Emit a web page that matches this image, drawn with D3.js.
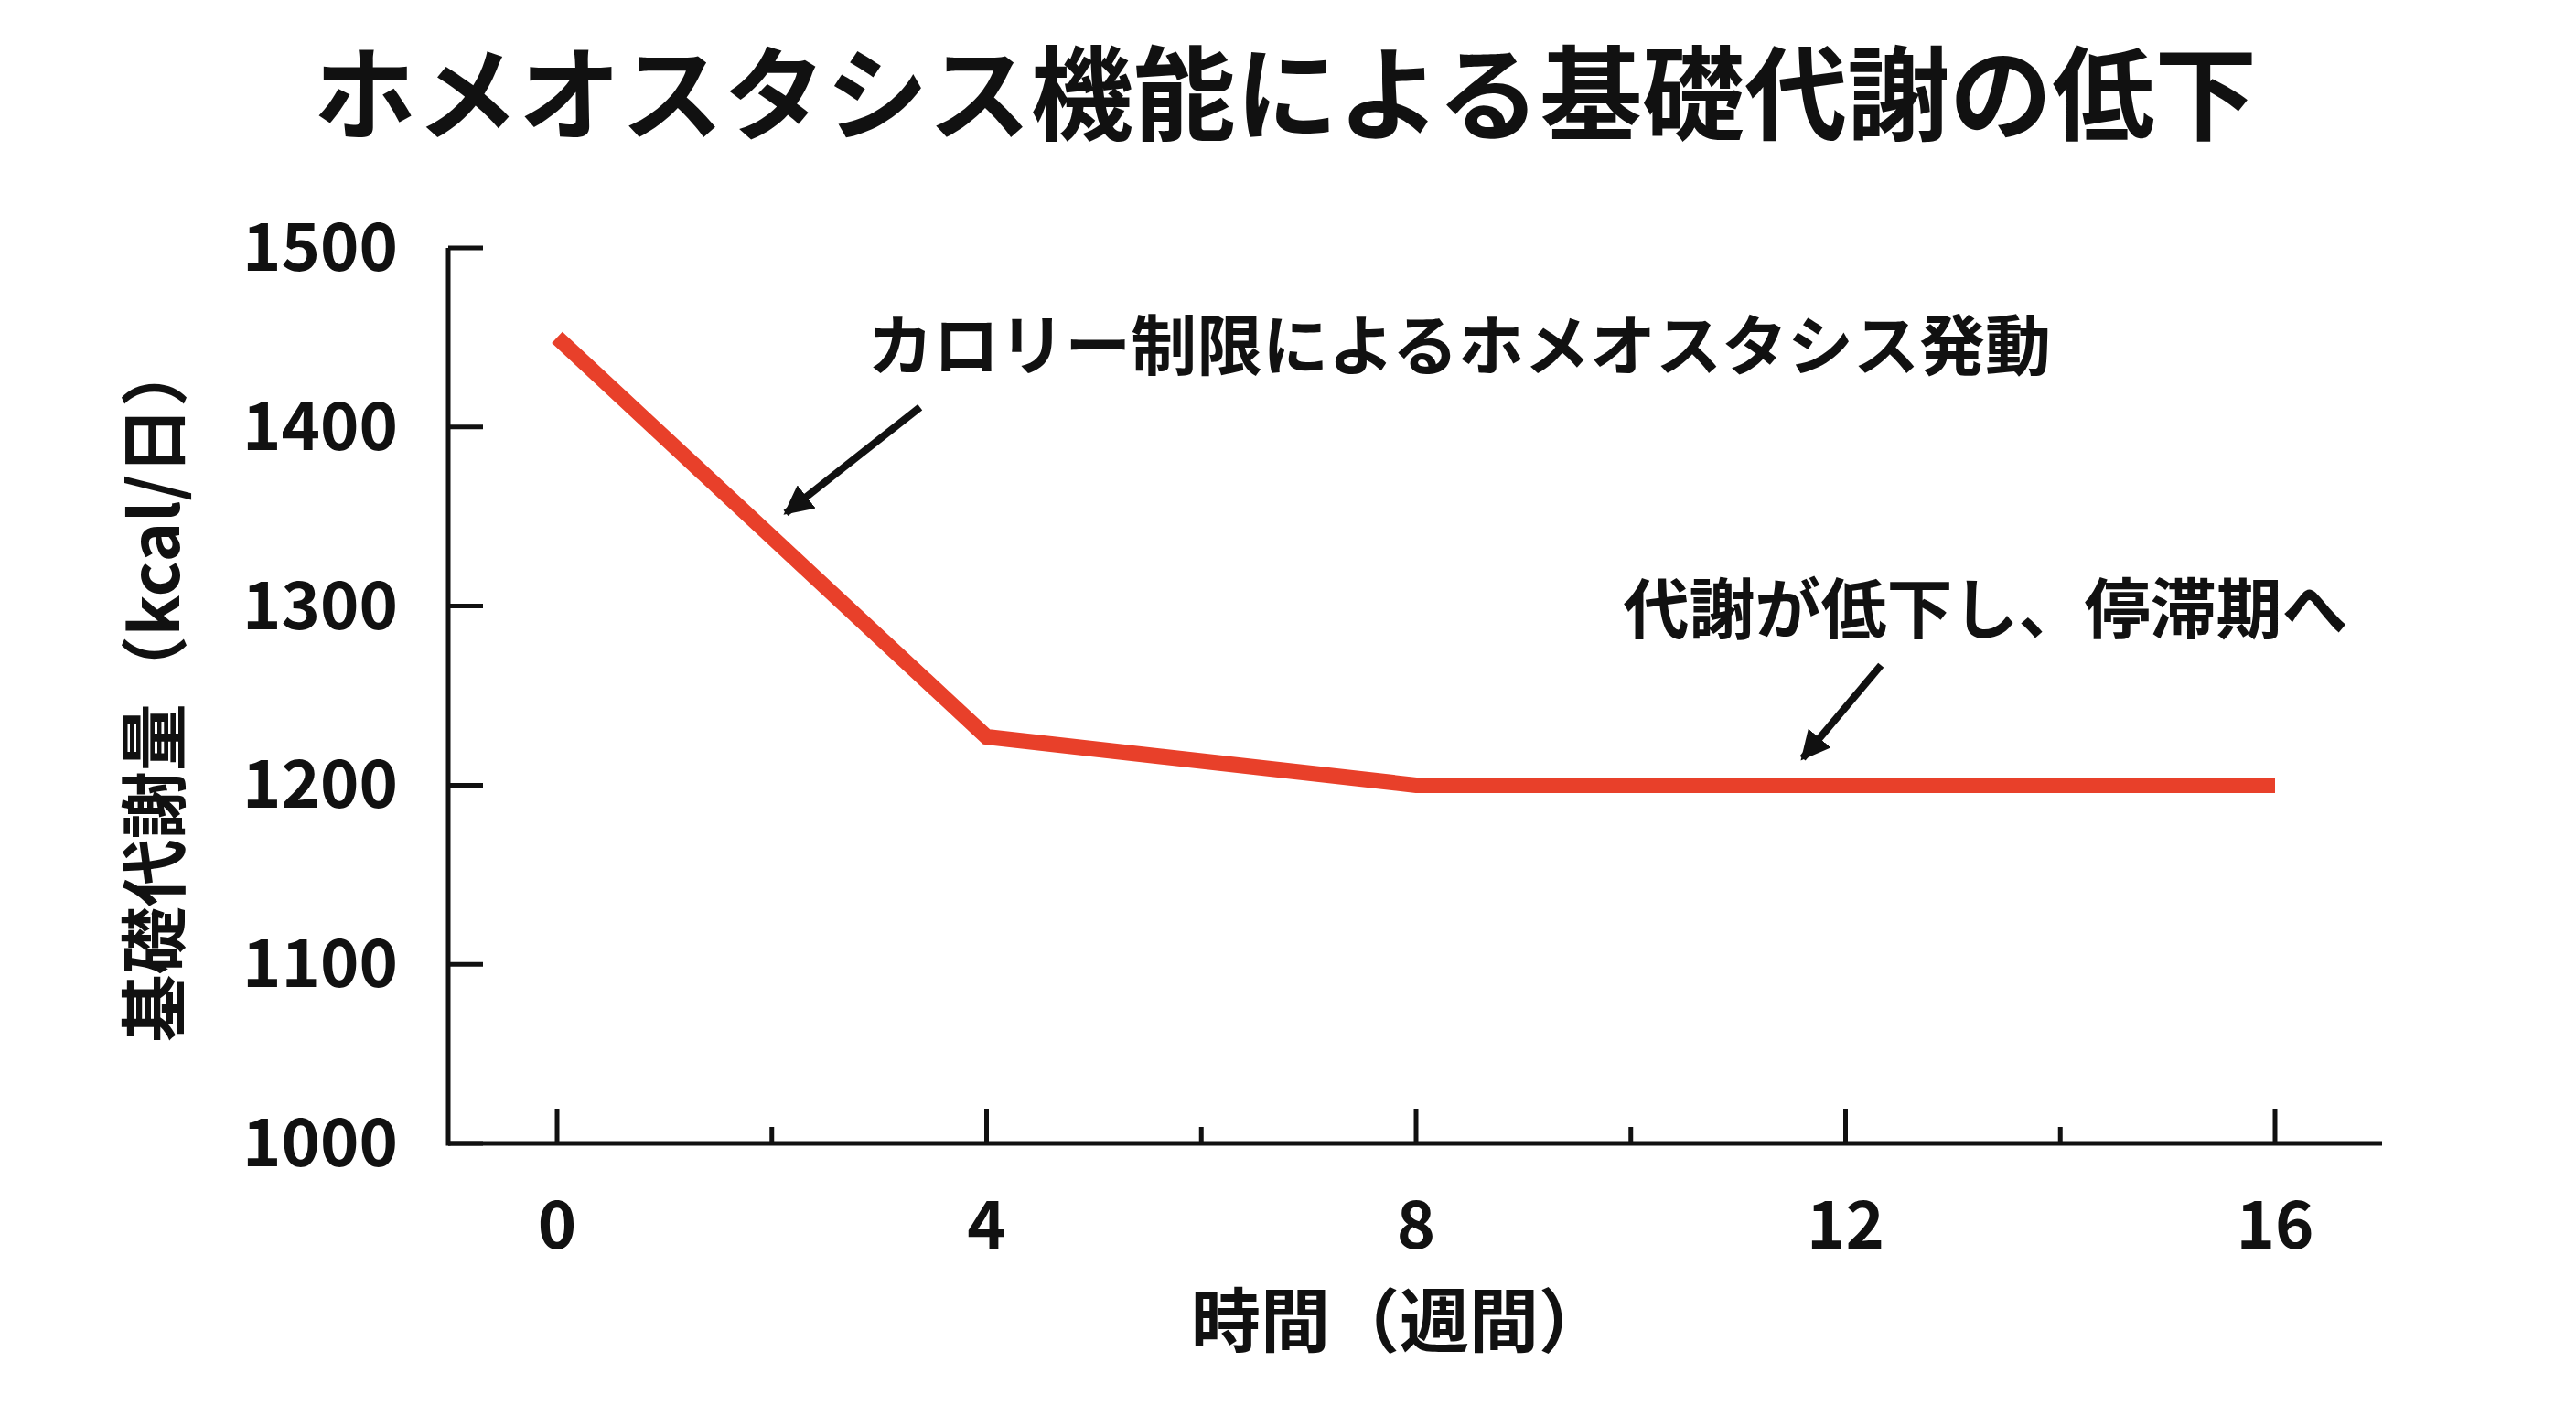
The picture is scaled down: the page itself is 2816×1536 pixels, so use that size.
<!DOCTYPE html>
<html><head><meta charset="utf-8">
<script src="https://cdn.jsdelivr.net/npm/d3@7"></script>
<style>body{margin:0;background:#fff}svg{display:block}text{font-family:"Noto Sans CJK JP","Noto Sans",sans-serif}</style>
</head><body><div id="chart"></div>
<script>
const weeks = [0, 4, 8, 12, 16]
const metabolism = [1450, 1227, 1200, 1200, 1200]
const yTicks = [1000, 1100, 1200, 1300, 1400, 1500]
const xTicks = [0, 4, 8, 12, 16]
const xMinor = [2, 6, 10, 14]
const notes = [
  { text: 'カロリー制限によるホメオスタシス発動', tx: 2.89, ty: 1432, size: 72, from: [3.38, 1411], to: [2.13, 1352] },
  { text: '代謝が低下し、停滞期へ', tx: 9.93, ty: 1285, size: 72, from: [12.33, 1267], to: [11.6, 1215] }
]

const width = 2816, height = 1536
const svg = d3.select('#chart').append('svg').attr('width', width).attr('height', height)

const x = d3.scaleLinear().domain([0, 16]).range([609, 2487])
const y = d3.scaleLinear().domain([1000, 1500]).range([1250, 271])
const axisLeftX = 490, axisRightX = 2604

svg.append('defs').append('marker')
  .attr('id', 'arr').attr('viewBox', '0 0 10 10').attr('refX', 9).attr('refY', 5)
  .attr('markerWidth', 4).attr('markerHeight', 4).attr('orient', 'auto')
  .append('path').attr('d', 'M0,0L10,5L0,10z').attr('fill', '#111')

// title
svg.append('text').attr('x', 1405).attr('y', 145).attr('text-anchor', 'middle')
  .attr('font-size', 112).attr('font-weight', 700).attr('fill', '#111')
  .text('ホメオスタシス機能による基礎代謝の低下')

// axes
const ax = svg.append('g').attr('stroke', '#111').attr('stroke-width', 5)
ax.append('line').attr('x1', axisLeftX).attr('x2', axisLeftX).attr('y1', y(1500)).attr('y2', y(1000) + 2.5)
ax.append('line').attr('x1', axisLeftX).attr('x2', axisRightX).attr('y1', y(1000)).attr('y2', y(1000))
yTicks.forEach(v => ax.append('line').attr('x1', axisLeftX).attr('x2', axisLeftX + 38).attr('y1', y(v)).attr('y2', y(v)))
xTicks.forEach(v => ax.append('line').attr('x1', x(v)).attr('x2', x(v)).attr('y1', y(1000)).attr('y2', y(1000) - 38))
xMinor.forEach(v => ax.append('line').attr('x1', x(v)).attr('x2', x(v)).attr('y1', y(1000)).attr('y2', y(1000) - 18))

svg.selectAll('.yl').data(yTicks).join('text')
  .attr('x', 435).attr('y', d => y(d) + 25).attr('text-anchor', 'end')
  .attr('font-size', 72).attr('font-weight', 700).attr('fill', '#111').text(d => d)
svg.selectAll('.xl').data(xTicks).join('text')
  .attr('x', d => x(d)).attr('y', 1365).attr('text-anchor', 'middle')
  .attr('font-size', 72).attr('font-weight', 700).attr('fill', '#111').text(d => d)

svg.append('text').attr('x', 1530).attr('y', 1472).attr('text-anchor', 'middle')
  .attr('font-size', 76).attr('font-weight', 700).attr('fill', '#111').text('時間（週間）')
svg.append('text').attr('transform', 'translate(196,755) rotate(-90)').attr('text-anchor', 'middle')
  .attr('font-size', 74).attr('font-weight', 700).attr('fill', '#111').text('基礎代謝量（kcal/日）')

// line
svg.append('path').datum(weeks.map((w, i) => [w, metabolism[i]]))
  .attr('d', d3.line().x(d => x(d[0])).y(d => y(d[1])))
  .attr('fill', 'none').attr('stroke', '#e8402a').attr('stroke-width', 17)

// annotations
notes.forEach(n => {
  svg.append('text').attr('x', x(n.tx)).attr('y', y(n.ty)).attr('font-size', n.size)
    .attr('font-weight', 700).attr('fill', '#111').text(n.text)
  svg.append('line').attr('x1', x(n.from[0])).attr('y1', y(n.from[1]))
    .attr('x2', x(n.to[0])).attr('y2', y(n.to[1]))
    .attr('stroke', '#111').attr('stroke-width', 8).attr('marker-end', 'url(#arr)')
})
</script></body></html>
